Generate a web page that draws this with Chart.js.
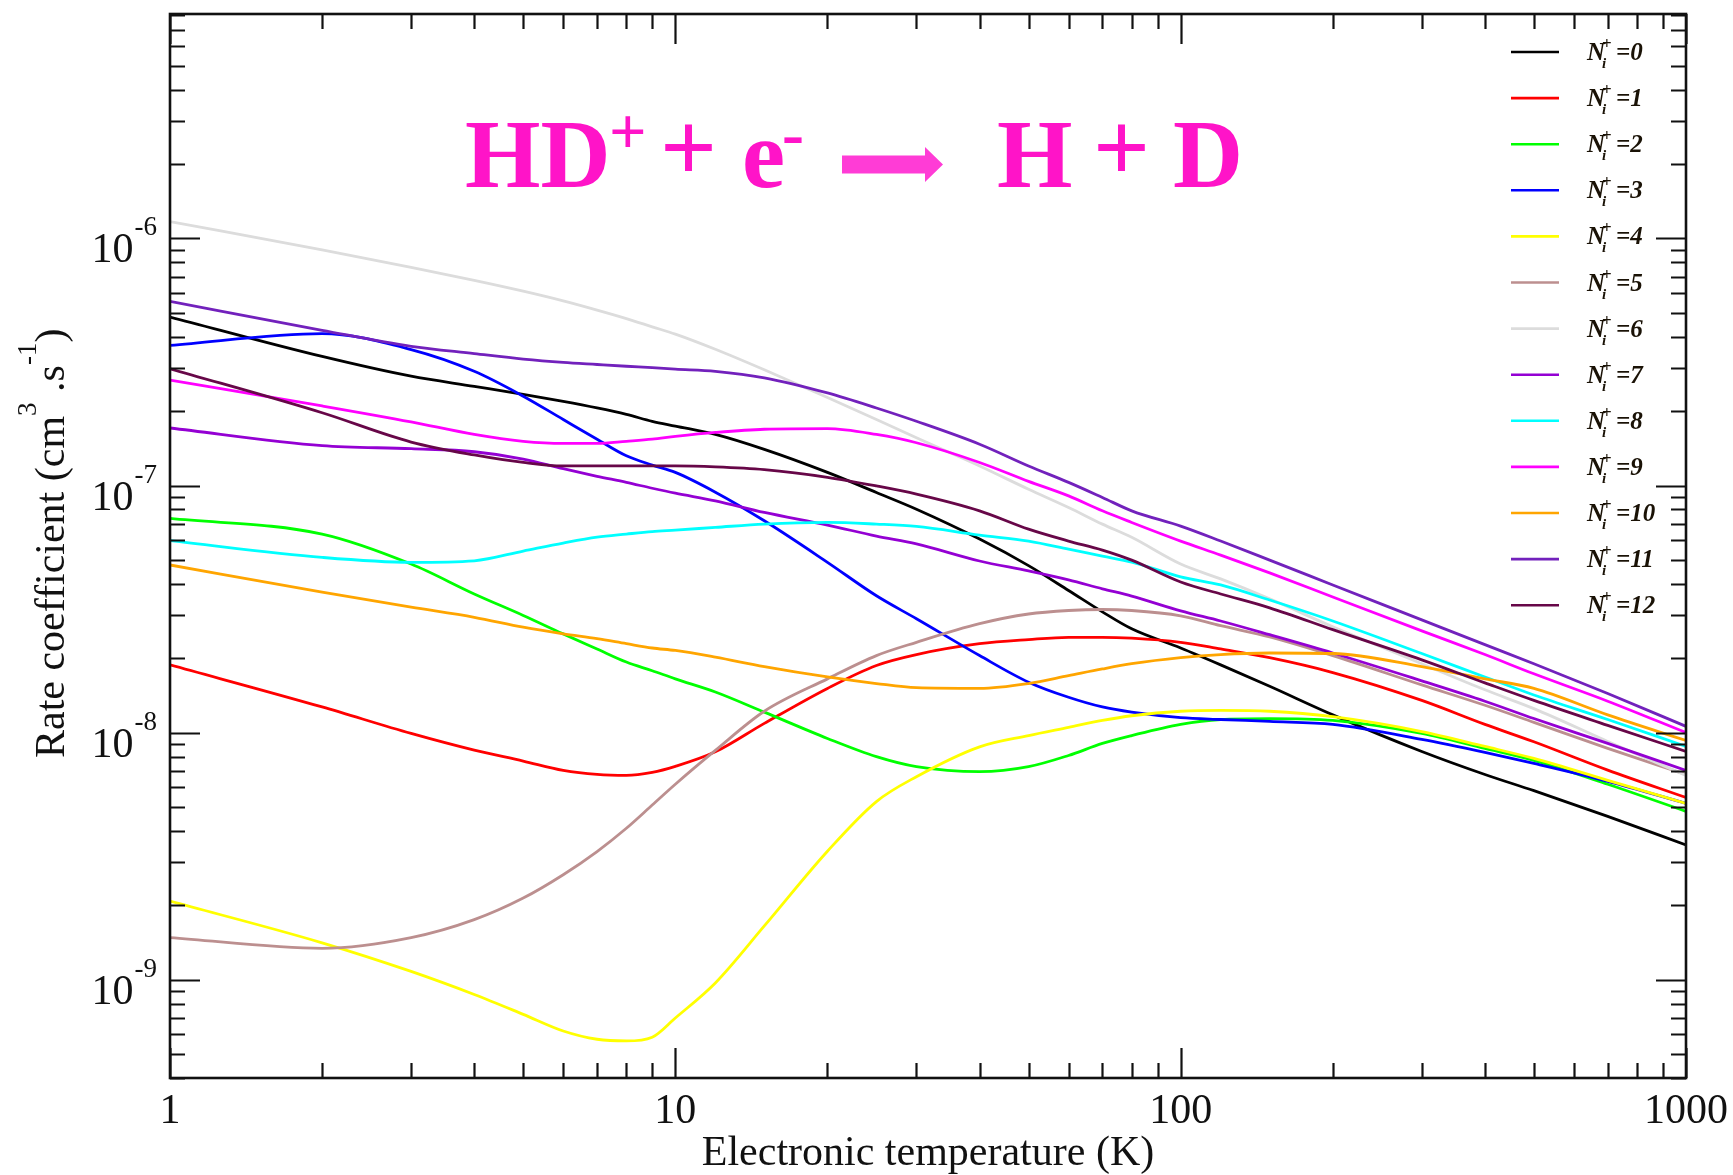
<!DOCTYPE html>
<html lang="en">
<head>
    <meta charset="UTF-8">
    <title>HD+ + e- rate coefficients</title>
    <script src="https://cdn.jsdelivr.net/npm/chart.js"></script>
    <style>
        body {
            margin: 0;
            background-color: #fff;
        }
        #wrap {
            width: 1733px;
            height: 1175px;
        }
    </style>
</head>
<body>
    <div id="wrap">
        <canvas id="rateChart" width="1733" height="1175"></canvas>
    </div>

    <script>
        // Electronic temperature grid (K)
        const temperatures = [1, 2, 3, 4, 5, 6, 7, 8, 9, 10, 12, 15, 20, 25, 30, 40, 50, 60, 70, 80, 100, 120, 150, 200, 300, 400, 500, 700, 1000];

        // Rate coefficients (cm^3 s^-1), one array per initial rotational level
        const rateN0 = [4.81e-7, 3.33e-7, 2.77e-7, 2.52e-7, 2.34e-7, 2.19e-7, 2.06e-7, 1.94e-7, 1.82e-7, 1.74e-7, 1.61e-7, 1.40e-7, 1.13e-7, 9.37e-8, 8.02e-8, 6.07e-8, 4.74e-8, 3.76e-8, 3.08e-8, 2.63e-8, 2.20e-8, 1.88e-8, 1.54e-8, 1.18e-8, 8.39e-9, 6.77e-9, 5.82e-9, 4.58e-9, 3.51e-9];
        const rateN1 = [1.88e-8, 1.27e-8, 9.92e-9, 8.49e-9, 7.67e-9, 7.03e-9, 6.77e-9, 6.71e-9, 6.90e-9, 7.30e-9, 8.36e-9, 1.09e-8, 1.51e-8, 1.87e-8, 2.07e-8, 2.29e-8, 2.38e-8, 2.43e-8, 2.43e-8, 2.41e-8, 2.32e-8, 2.18e-8, 2.01e-8, 1.75e-8, 1.35e-8, 1.08e-8, 9.18e-9, 7.05e-9, 5.46e-9];
        const rateN2 = [7.36e-8, 6.36e-8, 4.81e-8, 3.64e-8, 2.98e-8, 2.51e-8, 2.18e-8, 1.93e-8, 1.78e-8, 1.65e-8, 1.46e-8, 1.21e-8, 9.47e-9, 7.99e-9, 7.28e-9, 6.95e-9, 7.28e-9, 8.08e-9, 9.04e-9, 9.73e-9, 1.08e-8, 1.13e-8, 1.14e-8, 1.12e-8, 9.92e-9, 8.63e-9, 7.72e-9, 6.18e-9, 4.80e-9];
        const rateN3 = [3.69e-7, 4.12e-7, 3.55e-7, 2.90e-7, 2.30e-7, 1.85e-7, 1.54e-7, 1.32e-7, 1.21e-7, 1.13e-7, 9.40e-8, 7.20e-8, 4.89e-8, 3.58e-8, 2.89e-8, 2.05e-8, 1.60e-8, 1.39e-8, 1.27e-8, 1.21e-8, 1.15e-8, 1.13e-8, 1.11e-8, 1.08e-8, 9.38e-9, 8.31e-9, 7.50e-9, 6.35e-9, 5.17e-9];
        const rateN4 = [2.08e-9, 1.41e-9, 1.08e-9, 8.71e-10, 7.24e-10, 6.20e-10, 5.74e-10, 5.65e-10, 5.85e-10, 7.00e-10, 9.70e-10, 1.65e-9, 3.31e-9, 5.26e-9, 6.63e-9, 8.76e-9, 9.73e-9, 1.05e-8, 1.12e-8, 1.17e-8, 1.22e-8, 1.23e-8, 1.22e-8, 1.16e-8, 1.01e-8, 8.79e-9, 7.86e-9, 6.41e-9, 5.17e-9];
        const rateN5 = [1.48e-9, 1.34e-9, 1.48e-9, 1.75e-9, 2.14e-9, 2.66e-9, 3.30e-9, 4.10e-9, 5.09e-9, 6.18e-9, 8.47e-9, 1.22e-8, 1.65e-8, 2.05e-8, 2.32e-8, 2.76e-8, 3.02e-8, 3.12e-8, 3.15e-8, 3.12e-8, 2.97e-8, 2.71e-8, 2.44e-8, 2.05e-8, 1.56e-8, 1.29e-8, 1.10e-8, 8.63e-9, 6.77e-9];
        const rateN6 = [1.17e-6, 8.99e-7, 7.64e-7, 6.77e-7, 6.12e-7, 5.59e-7, 5.13e-7, 4.74e-7, 4.39e-7, 4.10e-7, 3.56e-7, 2.94e-7, 2.27e-7, 1.85e-7, 1.56e-7, 1.20e-7, 9.66e-8, 8.15e-8, 6.98e-8, 6.17e-8, 4.81e-8, 4.19e-8, 3.48e-8, 2.68e-8, 1.90e-8, 1.49e-8, 1.25e-8, 9.21e-9, 6.71e-9];
        const rateN7 = [1.71e-7, 1.45e-7, 1.41e-7, 1.37e-7, 1.28e-7, 1.17e-7, 1.09e-7, 1.03e-7, 9.75e-8, 9.31e-8, 8.67e-8, 7.78e-8, 6.92e-8, 6.24e-8, 5.80e-8, 4.95e-8, 4.51e-8, 4.15e-8, 3.82e-8, 3.57e-8, 3.11e-8, 2.83e-8, 2.49e-8, 2.10e-8, 1.62e-8, 1.34e-8, 1.14e-8, 9.04e-9, 7.03e-9];
        const rateN8 = [5.98e-8, 5.12e-8, 4.89e-8, 4.96e-8, 5.43e-8, 5.85e-8, 6.18e-8, 6.36e-8, 6.51e-8, 6.60e-8, 6.77e-8, 6.98e-8, 7.09e-8, 6.98e-8, 6.83e-8, 6.30e-8, 5.96e-8, 5.53e-8, 5.18e-8, 4.90e-8, 4.27e-8, 3.96e-8, 3.44e-8, 2.83e-8, 2.09e-8, 1.68e-8, 1.42e-8, 1.13e-8, 8.79e-9];
        const rateN9 = [2.67e-7, 2.10e-7, 1.81e-7, 1.61e-7, 1.51e-7, 1.48e-7, 1.48e-7, 1.51e-7, 1.54e-7, 1.58e-7, 1.64e-7, 1.69e-7, 1.70e-7, 1.61e-7, 1.49e-7, 1.24e-7, 1.04e-7, 9.08e-8, 7.90e-8, 7.09e-8, 5.96e-8, 5.23e-8, 4.43e-8, 3.54e-8, 2.58e-8, 2.07e-8, 1.73e-8, 1.34e-8, 1.00e-8];
        const rateN10 = [4.77e-8, 3.70e-8, 3.22e-8, 2.93e-8, 2.67e-8, 2.51e-8, 2.40e-8, 2.29e-8, 2.20e-8, 2.15e-8, 2.02e-8, 1.85e-8, 1.68e-8, 1.58e-8, 1.52e-8, 1.51e-8, 1.58e-8, 1.70e-8, 1.81e-8, 1.90e-8, 2.01e-8, 2.07e-8, 2.10e-8, 2.09e-8, 1.85e-8, 1.65e-8, 1.51e-8, 1.18e-8, 9.29e-9];
        const rateN11 = [5.56e-7, 4.25e-7, 3.66e-7, 3.42e-7, 3.25e-7, 3.15e-7, 3.09e-7, 3.04e-7, 3.00e-7, 2.96e-7, 2.90e-7, 2.73e-7, 2.37e-7, 2.06e-7, 1.82e-7, 1.47e-7, 1.20e-7, 1.03e-7, 8.95e-8, 7.90e-8, 6.85e-8, 5.96e-8, 4.99e-8, 3.96e-8, 2.86e-8, 2.27e-8, 1.90e-8, 1.44e-8, 1.06e-8];
        const rateN12 = [2.97e-7, 1.97e-7, 1.50e-7, 1.33e-7, 1.24e-7, 1.20e-7, 1.20e-7, 1.20e-7, 1.20e-7, 1.20e-7, 1.19e-7, 1.16e-7, 1.08e-7, 9.96e-8, 9.23e-8, 7.90e-8, 6.66e-8, 5.96e-8, 5.48e-8, 4.99e-8, 4.07e-8, 3.64e-8, 3.20e-8, 2.61e-8, 1.97e-8, 1.59e-8, 1.35e-8, 1.07e-8, 8.39e-9];

        const allRates = [rateN0, rateN1, rateN2, rateN3, rateN4, rateN5, rateN6, rateN7, rateN8, rateN9, rateN10, rateN11, rateN12];
        const levelNumbers = [0, 1, 2, 3, 4, 5, 6, 7, 8, 9, 10, 11, 12];
        const seriesColors = ['#000000', '#ff0000', '#00ff00', '#0000ff', '#ffff00', '#bc8f8f', '#dcdcdc',
                              '#9400d3', '#00ffff', '#ff00ff', '#ffa500', '#7221bc', '#670748'];

        // Axis ticks
        const xTickValues = [1, 10, 100, 1000];
        const yTickExponents = [-6, -7, -8, -9];

        const serif = '"Liberation Serif", "Times New Roman", serif';

        const datasets = allRates.map((rates, i) => ({
            label: 'N_i^+=' + levelNumbers[i],
            data: temperatures.map((t, j) => ({ x: t, y: rates[j] })),
            borderColor: seriesColors[i],
            backgroundColor: seriesColors[i],
            borderWidth: 2.8,
            pointRadius: 0,
            cubicInterpolationMode: 'monotone',
            fill: false,
            order: allRates.length - 1 - i   // higher levels drawn on top
        }));

        // frame, inward ticks, tick labels and axis titles
        const framePlugin = {
            id: 'frame',
            afterDatasetsDraw(chart) {
                const { ctx, chartArea: a, scales: { x, y } } = chart;
                ctx.save();
                ctx.strokeStyle = '#111';
                ctx.lineWidth = 2.2;

                // x ticks (bottom and top)
                for (let e = 0; e <= 3; e++) {
                    for (let k = 1; k <= 9; k++) {
                        const v = k * Math.pow(10, e);
                        if (v > 1000) break;
                        const px = Math.round(x.getPixelForValue(v)) + 0.5;
                        const len = k === 1 ? 30 : 15;
                        ctx.beginPath();
                        ctx.moveTo(px, a.bottom); ctx.lineTo(px, a.bottom - len);
                        ctx.moveTo(px, a.top); ctx.lineTo(px, a.top + len);
                        ctx.stroke();
                    }
                }

                // y ticks (left and right)
                for (let e = -10; e <= -6; e++) {
                    for (let k = 1; k <= 9; k++) {
                        const v = k * Math.pow(10, e);
                        if (v < y.min * 0.999 || v > y.max * 1.001) continue;
                        const py = Math.round(y.getPixelForValue(v)) + 0.5;
                        const len = k === 1 ? 30 : 15;
                        ctx.beginPath();
                        ctx.moveTo(a.left, py); ctx.lineTo(a.left + len, py);
                        ctx.moveTo(a.right, py); ctx.lineTo(a.right - len, py);
                        ctx.stroke();
                    }
                }

                ctx.lineWidth = 2.6;
                ctx.strokeRect(a.left, a.top, a.right - a.left, a.bottom - a.top);

                ctx.fillStyle = '#111';
                ctx.textBaseline = 'alphabetic';

                // x tick labels
                ctx.font = '42px ' + serif;
                ctx.textAlign = 'center';
                xTickValues.forEach(v => {
                    ctx.fillText(String(v), x.getPixelForValue(v), a.bottom + 45);
                });

                // y tick labels: 10 with a raised exponent
                yTickExponents.forEach(e => {
                    const py = y.getPixelForValue(Math.pow(10, e));
                    const sup = String(e);
                    ctx.font = '27px ' + serif;
                    const ws = ctx.measureText(sup).width;
                    const right = 157;
                    ctx.textAlign = 'left';
                    ctx.fillText(sup, right - ws, py - 3);
                    ctx.font = '42px ' + serif;
                    ctx.textAlign = 'right';
                    ctx.fillText('10', right - ws - 1, py + 24);
                });

                // x axis title
                ctx.font = '42px ' + serif;
                ctx.textAlign = 'center';
                ctx.fillText('Electronic temperature (K)', (a.left + a.right) / 2, 1165);

                // y axis title, rotated, with superscripts
                ctx.save();
                ctx.translate(64, 758);
                ctx.rotate(-Math.PI / 2);
                ctx.textAlign = 'left';
                const parts = [
                    { t: 'Rate coefficient (cm', f: '42px ', dy: 0 },
                    { t: '3', f: '27px ', dy: -28 },
                    { t: ' .s', f: '42px ', dy: 0 },
                    { t: '-1', f: '27px ', dy: -28 },
                    { t: ')', f: '42px ', dy: 0 }
                ];
                let cx = 0;
                parts.forEach(p => {
                    ctx.font = p.f + serif;
                    ctx.fillText(p.t, cx, p.dy);
                    cx += ctx.measureText(p.t).width;
                });
                ctx.restore();

                ctx.restore();
            }
        };

        // legend column on the right, N_i^+ labels with sub/superscripts
        const LEGEND_TOP = 52;
        const LEGEND_STEP = 46.1;
        const legendPlugin = {
            id: 'levelLegend',
            afterDraw(chart) {
                const ctx = chart.ctx;
                ctx.save();
                ctx.textAlign = 'left';
                ctx.textBaseline = 'alphabetic';
                chart.data.datasets.forEach((ds, i) => {
                    const ly = LEGEND_TOP + LEGEND_STEP * i;
                    ctx.strokeStyle = ds.borderColor;
                    ctx.lineWidth = 2.6;
                    ctx.beginPath();
                    ctx.moveTo(1511, ly);
                    ctx.lineTo(1559, ly);
                    ctx.stroke();

                    ctx.fillStyle = '#1a1206';
                    const x0 = 1587;
                    ctx.font = 'bold italic 25px ' + serif;
                    ctx.fillText('N', x0, ly + 8);
                    ctx.font = 'bold italic 15px ' + serif;
                    ctx.fillText('i', x0 + 15, ly + 16);
                    ctx.font = 'bold 17px ' + serif;
                    ctx.fillText('+', x0 + 15, ly - 3);
                    ctx.font = 'bold italic 25px ' + serif;
                    ctx.fillText('=' + levelNumbers[i], x0 + 29, ly + 8);
                });
                ctx.restore();
            }
        };

        // reaction label in the upper part of the plot
        const reactionPlugin = {
            id: 'reaction',
            afterDraw(chart) {
                const ctx = chart.ctx;
                ctx.save();
                ctx.textAlign = 'left';
                ctx.textBaseline = 'alphabetic';
                ctx.fillStyle = '#ff14c8';
                ctx.font = 'bold 97px ' + serif;
                ctx.fillText('HD', 465, 187);
                ctx.font = 'bold 66px ' + serif;
                ctx.fillText('+', 609, 154);
                ctx.font = 'bold 100px ' + serif;
                ctx.fillText('+', 660, 181);
                ctx.font = 'bold 97px ' + serif;
                ctx.fillText('e', 742, 187);
                ctx.font = 'bold 66px ' + serif;
                ctx.fillText('-', 782, 156);
                ctx.font = 'bold 97px ' + serif;
                ctx.fillText('H', 997, 187);
                ctx.font = 'bold 100px ' + serif;
                ctx.fillText('+', 1093, 181);
                ctx.font = 'bold 97px ' + serif;
                ctx.fillText('D', 1173, 187);

                // arrow
                ctx.fillStyle = '#ff3cd6';
                ctx.beginPath();
                ctx.moveTo(842, 155.5);
                ctx.lineTo(925, 155.5);
                ctx.lineTo(925, 147);
                ctx.lineTo(943, 164.5);
                ctx.lineTo(925, 182);
                ctx.lineTo(925, 173.5);
                ctx.lineTo(842, 173.5);
                ctx.closePath();
                ctx.fill();
                ctx.restore();
            }
        };

        const ctx = document.getElementById('rateChart').getContext('2d');
        new Chart(ctx, {
            type: 'line',
            data: { datasets: datasets },
            options: {
                responsive: false,
                animation: false,
                devicePixelRatio: 1,
                layout: { padding: { left: 170, top: 14, right: 47, bottom: 97 } },
                plugins: {
                    legend: { display: false },
                    tooltip: { enabled: false },
                    title: { display: false }
                },
                scales: {
                    x: { type: 'logarithmic', min: 1, max: 1000, display: false },
                    y: { type: 'logarithmic', min: 4e-10, max: 8.1e-6, display: false }
                }
            },
            plugins: [framePlugin, legendPlugin, reactionPlugin]
        });
    </script>
</body>
</html>
